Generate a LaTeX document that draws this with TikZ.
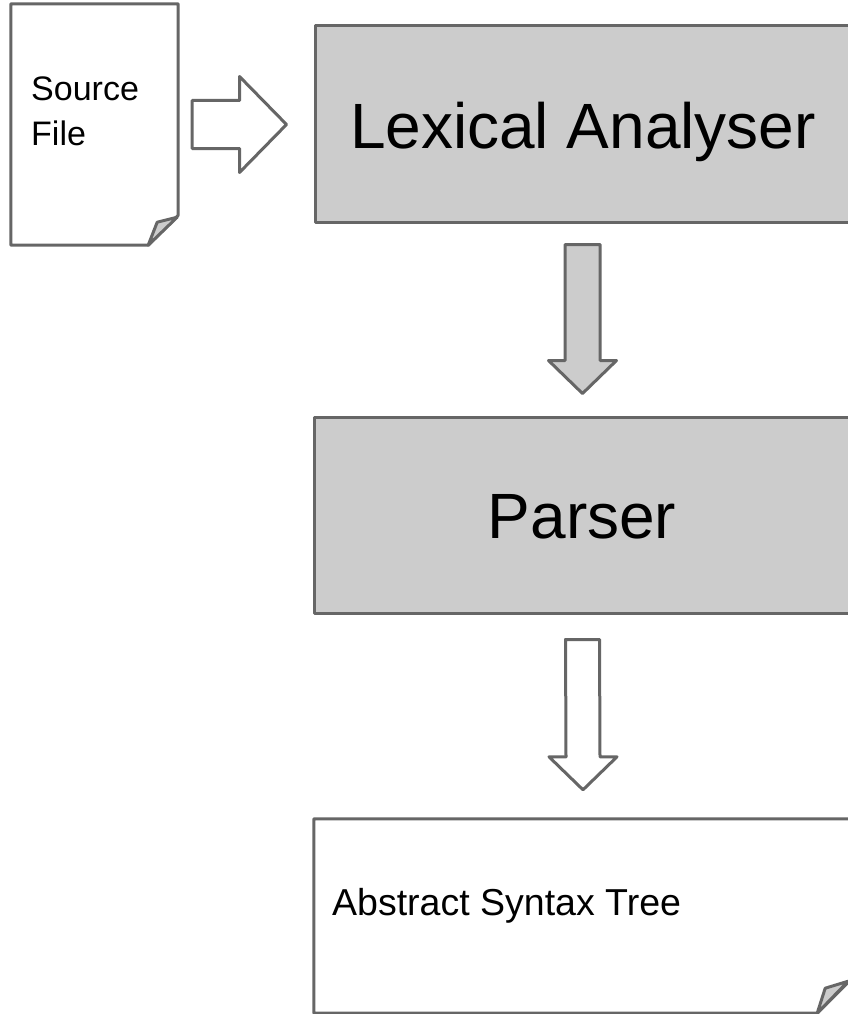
\documentclass[tikz,border=0pt]{standalone}
\usepackage{fontspec}
\setmainfont{Liberation Sans}
\usetikzlibrary{calc}
\definecolor{edgegray}{HTML}{666666}
\definecolor{fillgray}{HTML}{CCCCCC}
\tikzset{
  outline/.style={draw=edgegray, line width=3pt, line join=round},
  procbox/.style={outline, fill=fillgray, rectangle, inner sep=0pt,
     minimum width=536pt, minimum height=196pt,
     font=\fontsize{64}{76}\selectfont, text=black},
  docfill/.style={outline, fill=white},
  foldfill/.style={outline, fill=fillgray},
  arrowwhite/.style={outline, fill=white},
  arrowgray/.style={outline, fill=fillgray},
  frame/.style={rectangle, inner sep=0pt, draw=none}
}
\begin{document}
\begin{tikzpicture}[x=1pt,y=-1pt]
\useasboundingbox (0,0) rectangle (848,1014);
\clip (0,0) rectangle (848,1014);
\fill[white] (0,0) rectangle (848,1014);

% Source file document
\node[frame, minimum width=167pt, minimum height=241pt] (src) at (94.5,124.5) {};
\draw[docfill] (src.north west) -- (src.north east) -- ([yshift=30pt]src.south east)
  -- ([xshift=-30pt]src.south east) -- (src.south west) -- cycle;
\draw[foldfill] ([xshift=-30pt]src.south east) -- ([xshift=-21pt,yshift=23pt]src.south east)
  -- ([xshift=-1pt,yshift=28pt]src.south east) -- cycle;
\node[anchor=north west, align=left, inner sep=0pt, font=\fontsize{34}{45}\selectfont]
  (srctext) at (31,76.5) {Source\\File};

% Lexical analyser
\node[procbox, text height=48pt, text depth=0pt] (lex) at (583,124) {Lexical Analyser};

% Parser
\node[procbox, text height=46pt, text depth=0pt] (parser) at (582,515) {Parser};

% AST document
\node[frame, minimum width=537pt, minimum height=194pt] (ast) at (582.5,916) {};
\draw[docfill] (ast.north west) -- (ast.north east) -- ([yshift=34pt]ast.south east)
  -- ([xshift=-34pt]ast.south east) -- (ast.south west) -- cycle;
\draw[foldfill] ([xshift=-34pt]ast.south east) -- ([xshift=-26pt,yshift=25pt]ast.south east)
  -- ([xshift=-3pt,yshift=32pt]ast.south east) -- cycle;
\node[anchor=base west, inner sep=0pt, font=\fontsize{37.5}{44}\selectfont]
  (asttext) at (332,915) {Abstract Syntax Tree};

% Right arrow: source -> lexical analyser
\coordinate (r0) at ($(src.east)+(14,0)$);
\coordinate (r1) at ($(lex.west)+(-27,0.5)$);
\draw[arrowwhite] ([yshift=24pt]r0) -- ([xshift=-47pt,yshift=24pt]r1) -- ([xshift=-47pt,yshift=48pt]r1)
  -- (r1) -- ([xshift=-47pt,yshift=-48pt]r1) -- ([xshift=-47pt,yshift=-24pt]r1)
  -- ([yshift=-24pt]r0) -- cycle;

% Down arrow 1 (gray): lexical analyser -> parser
\coordinate (d0) at ($(lex.south)+(-0.5,21)$);
\coordinate (d1) at ($(parser.north)+(0.5,-22)$);
\draw[arrowgray] ([xshift=-17.5pt]d0) -- ([xshift=17.5pt]d0) -- ([xshift=17.5pt,yshift=33pt]d1)
  -- ([xshift=34pt,yshift=33pt]d1) -- (d1) -- ([xshift=-34pt,yshift=33pt]d1)
  -- ([xshift=-17.5pt,yshift=33pt]d1) -- cycle;

% Down arrow 2 (white): parser -> AST
\coordinate (e0) at ($(parser.south)+(0.5,25)$);
\coordinate (e1) at ($(ast.north)+(0.5,-29)$);
\draw[arrowwhite] ([xshift=-17pt]e0) -- ([xshift=17pt]e0) -- ([xshift=17pt,yshift=33pt]e1)
  -- ([xshift=34pt,yshift=33pt]e1) -- (e1) -- ([xshift=-34pt,yshift=33pt]e1)
  -- ([xshift=-17pt,yshift=33pt]e1) -- cycle;
\end{tikzpicture}
\end{document}
